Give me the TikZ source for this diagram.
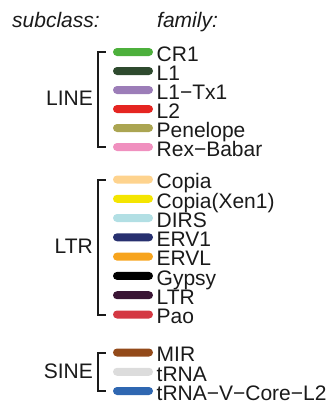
\documentclass[tikz,border=0pt]{standalone}
\usepackage{fontspec}
\setmainfont{Liberation Sans}
\usetikzlibrary{calc}
\definecolor{txt}{HTML}{1A1A1A}
\definecolor{cCRa}{HTML}{4DB03C}
\definecolor{cLa}{HTML}{2E4A2E}
\definecolor{cLTx}{HTML}{9C7DB8}
\definecolor{cLb}{HTML}{E52521}
\definecolor{cPen}{HTML}{ABA552}
\definecolor{cRex}{HTML}{F090BF}
\definecolor{cCop}{HTML}{FED38E}
\definecolor{cCopX}{HTML}{F4E501}
\definecolor{cDIRS}{HTML}{B2DFE4}
\definecolor{cERVa}{HTML}{27306F}
\definecolor{cERVL}{HTML}{F7A41D}
\definecolor{cGyp}{HTML}{000000}
\definecolor{cLTR}{HTML}{3A1535}
\definecolor{cPao}{HTML}{D43843}
\definecolor{cMIR}{HTML}{934A1A}
\definecolor{ctRNA}{HTML}{DCDCDC}
\definecolor{ctRNAV}{HTML}{2F67B1}
\begin{document}
\begin{tikzpicture}[x=1pt,y=-1pt,
  bar/.style={fill=#1, draw=none, rounded corners=4pt, minimum width=40pt, minimum height=8pt, inner sep=0pt},
  lab/.style={anchor=base west, inner sep=0pt, text=txt, font=\fontsize{21}{21}\selectfont},
  grp/.style={anchor=base east, inner sep=0pt, text=txt, font=\fontsize{21}{21}\selectfont},
  hdr/.style={anchor=base west, inner sep=0pt, text=txt, font=\fontsize{21}{21}\selectfont\itshape},
  brk/.style={draw=txt, line width=2pt, line cap=butt, line join=miter}]
\useasboundingbox (0,0) rectangle (331,405);
\node[hdr] (hsub) at (12,27) {subclass:};
\node[hdr] (hfam) at (157,27) {family:};
% LINE
\foreach \n/\c/\y/\t in {r1/cCRa/52/CR1, r2/cLa/71/L1, r3/cLTx/90/L1−Tx1, r4/cLb/109/L2, r5/cPen/128/Penelope, r6/cRex/147/Rex−Babar,
  r7/cCop/179.5/Copia, r8/cCopX/198.8/Copia(Xen1), r9/cDIRS/218/DIRS, r10/cERVa/237.3/ERV1, r11/cERVL/256.6/ERVL, r12/cGyp/275.9/Gypsy, r13/cLTR/295.2/LTR, r14/cPao/314.5/Pao,
  r15/cMIR/352.5/MIR, r16/ctRNA/371.8/tRNA, r17/ctRNAV/391/tRNA−V−Core−L2}{
  \node[bar=\c] (\n) at (133,\y) {};
  \node[lab] (\n t) at (156.5,\y+9.3) {\t};
}
\node[grp] (gLINE) at (93,105) {LINE};
\node[grp] (gLTR) at (93,253.5) {LTR};
\node[grp] (gSINE) at (93,378) {SINE};
\draw[brk] ($(r1.west)+(-7,-0.5)$) -- ($(r1.west)+(-14.5,-0.5)$) -- ($(r6.west)+(-14.5,0)$) -- ($(r6.west)+(-7,0)$);
\draw[brk] ($(r7.west)+(-7,0)$) -- ($(r7.west)+(-14.5,0)$) -- ($(r14.west)+(-14.5,0)$) -- ($(r14.west)+(-7,0)$);
\draw[brk] ($(r15.west)+(-7,0)$) -- ($(r15.west)+(-14.5,0)$) -- ($(r17.west)+(-14.5,0)$) -- ($(r17.west)+(-7,0)$);
\end{tikzpicture}
\end{document}
